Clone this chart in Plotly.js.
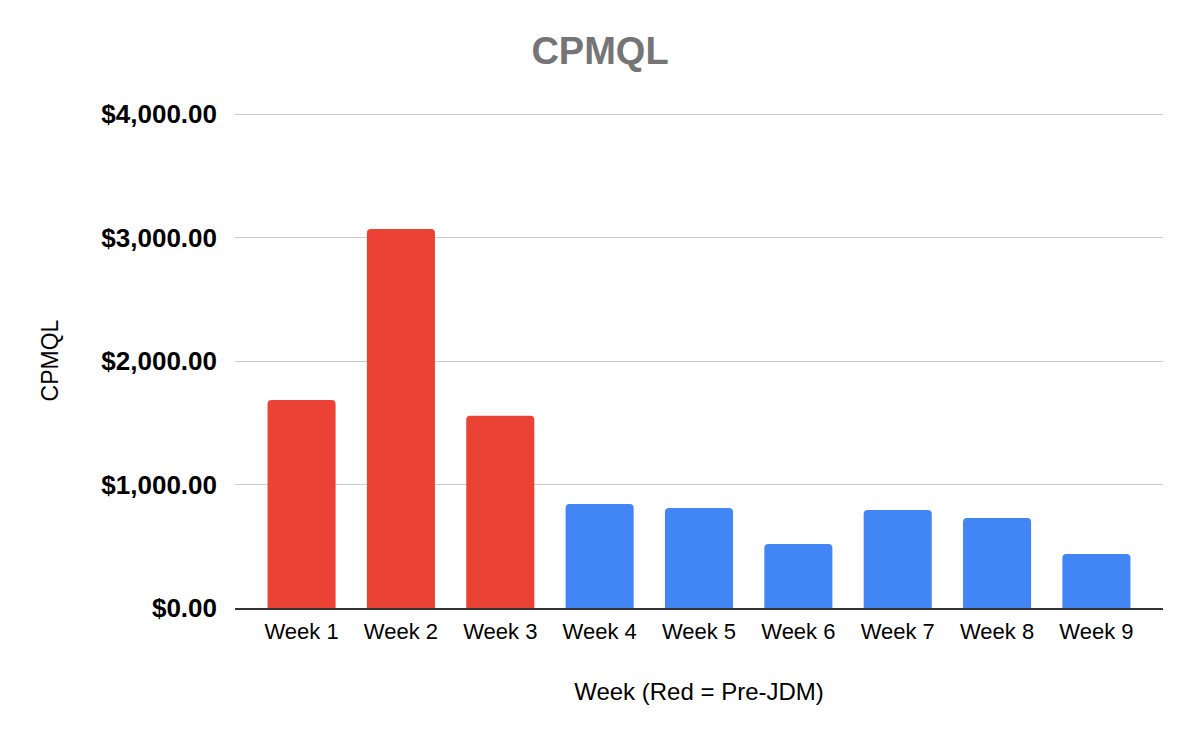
<!DOCTYPE html>
<html>
<head>
<meta charset="utf-8">
<script src="https://cdn.plot.ly/plotly-3.0.1.min.js"></script>
<style>html,body{margin:0;padding:0;background:#fff;}#chart{width:1200px;height:742px;}</style>
</head>
<body>
<div id="chart"></div>
<script>
const weeks = ["Week 1","Week 2","Week 3","Week 4","Week 5","Week 6","Week 7","Week 8","Week 9"];
const cpmql = [1685, 3070, 1557, 842, 810, 518, 794, 729, 437];
const preJDM = [true, true, true, false, false, false, false, false, false];
const yTickValues = [0, 1000, 2000, 3000, 4000];
const yTickLabels = ["$0.00", "$1,000.00", "$2,000.00", "$3,000.00", "$4,000.00"];
const redColor = "#ea4335";
const blueColor = "#4285f4";

const trace = {
  type: "bar",
  x: weeks,
  y: cpmql,
  marker: { color: preJDM.map(p => p ? redColor : blueColor), cornerradius: 4 },
  hoverinfo: "x+y"
};

const layout = {
  width: 1200,
  height: 742,
  margin: { l: 235, r: 37, t: 113, b: 134 },
  paper_bgcolor: "#ffffff",
  plot_bgcolor: "#ffffff",
  font: { family: "Liberation Sans, Arial, sans-serif", color: "#000000" },
  title: {
    text: "<b>CPMQL</b>",
    font: { size: 38, color: "#757575", family: "Liberation Sans, Arial, sans-serif" },
    x: 0.5, xanchor: "center",
    y: 0.932, yanchor: "middle"
  },
  bargap: 0.315,
  showlegend: false,
  xaxis: {
    type: "category",
    range: [-0.67, 8.67],
    showgrid: false,
    showline: true,
    linecolor: "#333333",
    linewidth: 2,
    ticks: "",
    ticklabelstandoff: 3,
    tickfont: { size: 22, color: "#000000" },
    title: { text: "Week (Red = Pre-JDM)", font: { size: 24, color: "#000000" }, standoff: 40 }
  },
  yaxis: {
    range: [0, 4010],
    tickmode: "array",
    tickvals: yTickValues,
    ticktext: yTickLabels,
    showgrid: true,
    gridcolor: "#cccccc",
    gridwidth: 1,
    zeroline: false,
    showline: false,
    ticks: "",
    ticklabelstandoff: 17,
    tickfont: { size: 26, color: "#000000", weight: "bold" },
    title: { text: "CPMQL", font: { size: 23, color: "#000000" }, standoff: 36 }
  }
};

Plotly.newPlot("chart", [trace], layout, { displayModeBar: false, staticPlot: true });
</script>
</body>
</html>
